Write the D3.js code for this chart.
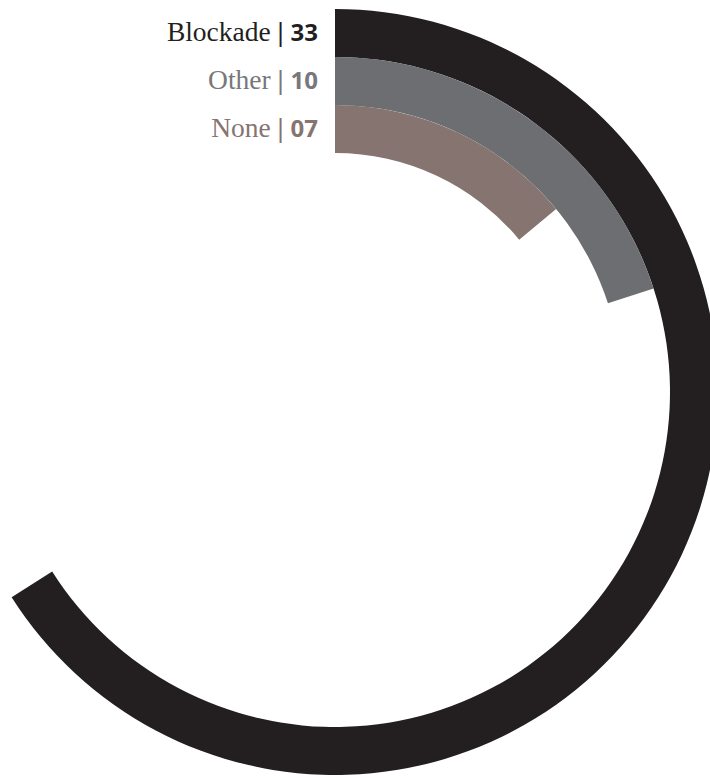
<!DOCTYPE html>
<html>
<head>
<meta charset="utf-8">
<script src="https://cdn.jsdelivr.net/npm/d3@7"></script>
<style>
  body { margin: 0; background: #fff; }
  svg { display: block; }
</style>
</head>
<body>
<div id="chart"></div>
<script>
// radial bars, one ring per category
var categories = ["Blockade", "Other", "None"];
var values = [33, 10, 7];
var valueLabels = ["33", "10", "07"];
var total = 50;

var width = 710;
var height = 778;
var cx = 335, cy = 392;
var outerRadius = 383;
var innerRadius = 239;

var barColor = d3.scaleOrdinal()
    .domain(categories)
    .range(["#231f20", "#6d6e71", "#857470"]);
var textColor = d3.scaleOrdinal()
    .domain(categories)
    .range(["#231f20", "#77787b", "#857470"]);

var svg = d3.select('#chart')
    .append('svg')
    .attr('width', width)
    .attr('height', height);

var g = svg.append('g')
    .attr('transform', 'translate(' + cx + ',' + cy + ')');

// reversed range: ring(name) gives the inner edge of that band
var ring = d3.scaleBand()
    .domain(categories)
    .range([outerRadius, innerRadius]);

var angle = d3.scaleLinear()
    .domain([0, total])
    .range([0, 2 * Math.PI]);

var arc = d3.arc()
    .innerRadius(function (d) { return ring(d.name); })
    .outerRadius(function (d) { return ring(d.name) + ring.bandwidth(); })
    .startAngle(0)
    .endAngle(function (d) { return angle(d.value); });

var data = categories.map(function (c, i) {
    return { name: c, value: values[i], label: valueLabels[i] };
});

g.selectAll('path')
    .data(data)
    .enter()
    .append('path')
    .attr('d', arc)
    .attr('fill', function (d) { return barColor(d.name); });

var labels = g.selectAll('.label')
    .data(data)
    .enter()
    .append('text')
    .attr('class', 'label')
    .attr('x', -17)
    .attr('y', function (d) { return -(ring(d.name) + ring.bandwidth() / 2) + 8; })
    .attr('text-anchor', 'end')
    .attr('fill', function (d) { return textColor(d.name); });

labels.append('tspan')
    .style('font-family', '"Liberation Serif", serif')
    .style('font-size', '27.5px')
    .text(function (d) { return d.name + ' '; });

labels.append('tspan')
    .style('font-family', '"Liberation Serif", serif')
    .style('font-size', '27.5px')
    .style('font-weight', 'bold')
    .text('| ');

labels.append('tspan')
    .style('font-family', '"Open Sans", sans-serif')
    .style('font-size', '24px')
    .style('font-weight', 'bold')
    .text(function (d) { return d.label; });
</script>
</body>
</html>
